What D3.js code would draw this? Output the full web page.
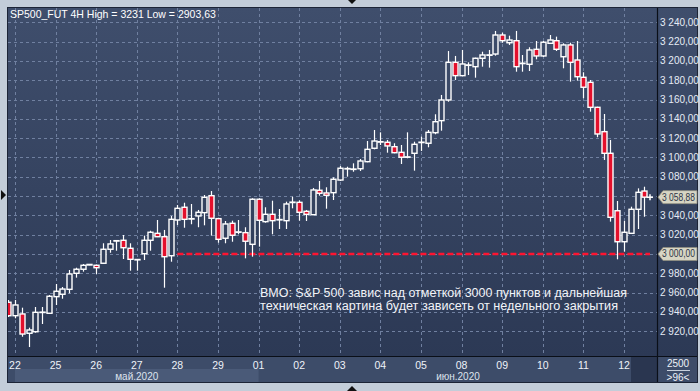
<!DOCTYPE html>
<html><head><meta charset="utf-8">
<script src="https://cdn.jsdelivr.net/npm/d3@7"></script>
<style>html,body{margin:0;padding:0;background:#c3cdd9;}svg{display:block;}</style>
</head><body>
<svg id="c" width="700" height="391"></svg>
<script>
// ---- data ----
const dayLabels = ["22","25","26","27","28","29","01","02","03","04","05","08","09","10","11","12"];
const dayStartIndex = [1,7,13,19,25,31,37,43,49,55,61,67,73,79,85,91];
const monthLabels = ["май.2020","июн.2020"];
const opens  = [2950.0,2936.1,2937.9,2917.9,2919.5,2939.6,2938.6,2955.8,2958.3,2963.4,2980.0,2984.2,2988.6,2988.3,2990.4,3004.9,3013.8,3014.2,3005.9,2994.1,
  3000.3,3014.2,3021.4,3017.9,2998.2,3035.2,3048.4,3036.4,3039.4,3042.8,3060.4,3036.6,3016.3,3031.8,3022.6,3022.1,3010.0,3056.7,3033.5,3041.1,
  3035.5,3034.5,3053.4,3053.5,3044.2,3040.7,3066.0,3063.2,3063.5,3076.6,3088.2,3088.0,3088.3,3095.6,3109.5,3116.3,3115.7,3111.1,3105.3,3100.3,
  3104.3,3115.5,3114.7,3125.6,3138.1,3159.5,3198.5,3184.7,3195.6,3194.0,3202.7,3206.0,3207.1,3226.8,3218.8,3220.9,3197.4,3196.5,3212.0,3205.1,
  3218.2,3220.9,3204.3,3216.5,3200.9,3183.0,3177.8,3151.9,3126.7,3104.3,3044.8,3012.7,3021.4,3046.3,3065.2];
const highs  = [2952.4,2952.4,2944.4,2923.7,2945.1,2945.1,2957.5,2968.9,2965.8,2983.4,2985.8,2989.6,2989.4,2989.1,3011.1,3014.5,3014.2,3019.7,3011.1,2994.6,
  3019.0,3024.1,3035.2,3024.9,3039.4,3050.7,3053.1,3051.8,3045.6,3061.1,3065.2,3037.5,3034.2,3034.5,3035.2,3027.7,3057.7,3057.7,3048.4,3055.2,
  3046.6,3054.2,3059.3,3055.5,3045.6,3068.4,3075.6,3069.1,3079.4,3091.1,3090.4,3093.9,3098.4,3117.0,3128.4,3126.0,3118.1,3114.7,3112.9,3126.0,
  3116.3,3121.5,3128.4,3144.7,3164.7,3210.2,3205.1,3211.3,3198.5,3203.3,3209.5,3211.3,3231.0,3229.2,3226.1,3231.0,3206.1,3214.1,3220.6,3220.6,
  3226.8,3225.1,3218.2,3218.8,3220.6,3188.2,3180.2,3152.5,3145.0,3118.1,3054.9,3034.2,3049.0,3068.0,3069.7];
const lows   = [2934.8,2933.4,2914.3,2903.63,2918.5,2927.5,2937.9,2947.2,2953.7,2959.3,2975.5,2981.7,2988.4,2979.3,2990.0,3001.3,3003.4,2994.8,2982.7,2982.7,
  2993.8,3003.4,3017.5,2965.1,2992.0,3030.0,3027.2,3030.8,3027.7,3029.7,3019.0,3011.7,3011.1,3012.7,3020.4,2995.5,2997.2,3007.6,3032.4,3020.4,
  3025.9,3025.9,3047.3,3034.5,3034.2,3040.3,3060.4,3046.9,3055.9,3075.6,3080.1,3085.2,3086.0,3095.0,3108.4,3112.9,3104.9,3104.3,3093.2,3099.1,
  3086.3,3106.7,3110.5,3124.0,3127.7,3157.7,3180.2,3184.3,3185.4,3182.6,3194.0,3193.0,3205.4,3218.8,3216.5,3188.8,3188.8,3189.5,3201.6,3204.0,
  3218.0,3210.2,3192.3,3178.5,3179.5,3161.3,3147.4,3120.9,3097.4,3033.5,2994.5,3002.4,3020.7,3025.9,3038.6];
const closes = [2936.1,2947.2,2917.1,2921.3,2939.6,2939.8,2956.2,2961.4,2963.7,2979.3,2984.2,2988.3,2989.2,2985.8,3004.9,3010.4,3013.6,3006.5,2994.5,2994.3,
  3014.2,3022.5,3017.9,2997.2,3035.9,3047.3,3035.9,3036.6,3043.2,3058.7,3037.0,3015.2,3031.1,3019.4,3022.9,3013.2,3056.7,3034.9,3041.1,3034.5,
  3035.7,3051.8,3053.7,3043.2,3041.1,3066.3,3062.9,3060.8,3077.4,3088.8,3088.5,3087.9,3096.3,3108.4,3117.0,3116.1,3111.9,3104.9,3100.2,3100.6,
  3113.6,3115.8,3126.0,3137.0,3159.5,3198.5,3184.7,3196.8,3195.8,3202.7,3206.1,3206.2,3226.8,3220.9,3221.6,3194.0,3197.6,3211.3,3205.1,3219.3,
  3221.6,3212.0,3216.5,3198.5,3183.6,3172.7,3151.9,3124.3,3104.3,3038.0,3012.7,3022.5,3046.3,3063.9,3058.88];
const gridTicks = [2920,2940,2960,2980,3000,3020,3040,3060,3080,3100,3120,3140,3160,3180,3200,3220,3240];
const labelTicks = [2920,2940,2960,2980,3020,3040,3080,3100,3120,3140,3160,3180,3200,3220,3240];
const levelValue = 3000;
const lastPrice = 3058.88;
const titleText = "SP500_FUT 4H High = 3231 Low = 2903,63";
const noteLines = ["BMO: S&P 500 завис над отметкой 3000 пунктов и дальнейшая","техническая картина будет зависеть от недельного закрытия"];
const cornerTop = "2500", cornerBottom = ">96<";

// ---- layout ----
const svg = d3.select("#c");
const P = {l:8, t:8, r:657, b:356};
const x = d3.scaleLinear().domain([0, opens.length-1]).range([8.2, 644.3]);
const y = d3.scaleLinear().domain([2900, 3250]).range([350.55, 12.6]);
const fmt = v => { const s = d3.format(",.2f")(v); return s.replace(/,/g," ").replace(".",","); };
const FONT = "'Liberation Sans', Arial, sans-serif";

const defs = svg.append("defs");
const g1 = defs.append("linearGradient").attr("id","bg").attr("gradientUnits","userSpaceOnUse")
  .attr("x1",0).attr("y1",P.t).attr("x2",0).attr("y2",P.b);
g1.append("stop").attr("offset",0).attr("stop-color","#3f4e6c");
g1.append("stop").attr("offset",1).attr("stop-color","#2c3955");
defs.append("clipPath").attr("id","clip").append("rect")
  .attr("x",P.l).attr("y",P.t).attr("width",P.r-P.l).attr("height",P.b-P.t);

svg.append("rect").attr("width",700).attr("height",391).attr("fill","#c3cdd9");
svg.append("rect").attr("x",P.l).attr("y",P.t).attr("width",P.r-P.l).attr("height",P.b-P.t).attr("fill","url(#bg)");
svg.append("rect").attr("x",P.r).attr("y",P.t).attr("width",697-P.r).attr("height",P.b-P.t).attr("fill","url(#bg)");
svg.append("rect").attr("x",P.l).attr("y",P.b).attr("width",697-P.l).attr("height",382-P.b).attr("fill","#3d4c69");
const mayEnd = x(dayStartIndex[6]);
svg.append("rect").attr("x",x(dayStartIndex[0])).attr("y",369).attr("width",mayEnd-x(dayStartIndex[0])).attr("height",13).attr("fill","#4a5a78");
svg.append("rect").attr("x",631).attr("y",P.b+1).attr("width",P.r-631).attr("height",382-P.b-1).attr("fill","#2a3650");

const plot = svg.append("g").attr("clip-path","url(#clip)");

plot.append("g").selectAll("line").data(gridTicks).join("line")
  .attr("x1",P.l).attr("x2",P.r).attr("y1",d=>Math.round(y(d))+0.5).attr("y2",d=>Math.round(y(d))+0.5)
  .attr("stroke","#7080a0").attr("stroke-width",1).attr("stroke-dasharray","3,3");
plot.append("g").selectAll("line").data(dayStartIndex).join("line")
  .attr("x1",d=>Math.round(x(d))+0.5).attr("x2",d=>Math.round(x(d))+0.5).attr("y1",P.t).attr("y2",P.b)
  .attr("stroke","#7080a0").attr("stroke-width",1).attr("stroke-dasharray","3,3");

plot.append("line").attr("x1",x(25)).attr("x2",650).attr("y1",Math.round(y(levelValue))).attr("y2",Math.round(y(levelValue)))
  .attr("stroke","#ff1430").attr("stroke-width",2.4).attr("stroke-dasharray","6,3");

const idx = d3.range(opens.length);
const cg = plot.append("g").selectAll("g").data(idx).join("g");
cg.append("line")
  .attr("x1",i=>Math.round(x(i))+0.5).attr("x2",i=>Math.round(x(i))+0.5)
  .attr("y1",i=>y(highs[i])).attr("y2",i=>y(lows[i]))
  .attr("stroke","#ffffff").attr("stroke-width",1.2);
cg.append("rect")
  .attr("x",i=>Math.round(x(i))-2)
  .attr("width",5)
  .attr("y",i=>y(Math.max(opens[i],closes[i])))
  .attr("height",i=>Math.max(0.4, Math.abs(y(opens[i])-y(closes[i]))))
  .attr("fill",i=> closes[i] < opens[i] ? "#e3102c" : "url(#bg)")
  .attr("stroke","#ffffff").attr("stroke-width",1.4);

const lx = 650, ly = y(lastPrice);
svg.append("path").attr("d",`M${lx-3},${ly}H${lx+3}M${lx},${ly-3}V${ly+3}`).attr("stroke","#fff").attr("stroke-width",1.5);

svg.append("line").attr("x1",P.r+0.5).attr("x2",P.r+0.5).attr("y1",P.t).attr("y2",382).attr("stroke","#0a0f18").attr("stroke-width",1.2);
svg.append("line").attr("x1",P.l).attr("x2",697).attr("y1",P.b+0.5).attr("y2",P.b+0.5).attr("stroke","#0a0f18").attr("stroke-width",1.2);
svg.append("rect").attr("x",P.l-0.5).attr("y",P.t-0.5).attr("width",697-P.l+1).attr("height",382-P.t+1)
  .attr("fill","none").attr("stroke","#1c2436").attr("stroke-width",1);

svg.append("g").selectAll("text").data(labelTicks).join("text")
  .attr("x",660).attr("y",d=>y(d)).attr("dy","0.35em")
  .attr("font-family",FONT).attr("font-size",10).attr("fill","#e6ecf6").text(d=>fmt(d));

function badge(v){
  const yy = y(v);
  svg.append("path").attr("d",`M${P.r+1},${yy} L${P.r+6},${yy-6.5} H697 V${yy+6.5} H${P.r+6} Z`)
    .attr("fill","#d7d5c4").attr("stroke","#8f8e80").attr("stroke-width",0.8);
  svg.append("text").attr("x",662).attr("y",yy).attr("dy","0.35em").attr("font-family",FONT).attr("font-size",10)
    .attr("textLength",33).attr("lengthAdjust","spacingAndGlyphs")
    .attr("fill","#2e3547").text(fmt(v));
}
badge(lastPrice);
badge(levelValue);

svg.append("g").selectAll("text").data(dayStartIndex).join("text")
  .attr("x",i=>x(i)).attr("y",365).attr("dy","0.35em").attr("text-anchor","middle")
  .attr("font-family",FONT).attr("font-size",10.5).attr("fill","#eef2f8").text((d,k)=>dayLabels[k]);
svg.append("text").attr("x",(x(dayStartIndex[0])+mayEnd)/2).attr("y",376).attr("dy","0.35em").attr("text-anchor","middle")
  .attr("font-family",FONT).attr("font-size",10).attr("fill","#dde3ee").text(monthLabels[0]);
svg.append("text").attr("x",458).attr("y",376).attr("dy","0.35em").attr("text-anchor","middle")
  .attr("font-family",FONT).attr("font-size",10).attr("fill","#dde3ee").text(monthLabels[1]);

svg.append("text").attr("x",678).attr("y",363).attr("dy","0.35em").attr("text-anchor","middle")
  .attr("font-family",FONT).attr("font-size",10).attr("fill","#eef2f8").text(cornerTop);
svg.append("line").attr("x1",667).attr("x2",690).attr("y1",370.5).attr("y2",370.5).attr("stroke","#c8d0dc").attr("stroke-width",1);
svg.append("text").attr("x",678).attr("y",377).attr("dy","0.35em").attr("text-anchor","middle")
  .attr("font-family",FONT).attr("font-size",10).attr("fill","#eef2f8").text(cornerBottom);

svg.append("text").attr("x",10).attr("y",14).attr("dy","0.35em").attr("font-family",FONT).attr("font-size",10.5)
  .attr("fill","#ffffff").text(titleText);

const noteLen = [367, 358];
svg.append("g").selectAll("text").data(noteLines).join("text")
  .attr("x",260).attr("y",(d,k)=>293+k*12.5).attr("dy","0.35em")
  .attr("textLength",(d,k)=>noteLen[k]).attr("lengthAdjust","spacingAndGlyphs")
  .attr("font-family",FONT).attr("font-size",12).attr("fill","#f2f4f8").text(d=>d);

svg.append("path").attr("d","M1,190 L6,195 L1,200 Z").attr("fill","#111");
svg.append("path").attr("d","M348,0 L356,0 L352,4 Z").attr("fill","#111");
svg.append("path").attr("d","M347,391 L352,386 L357,391 Z").attr("fill","#111");
</script>
</body></html>
